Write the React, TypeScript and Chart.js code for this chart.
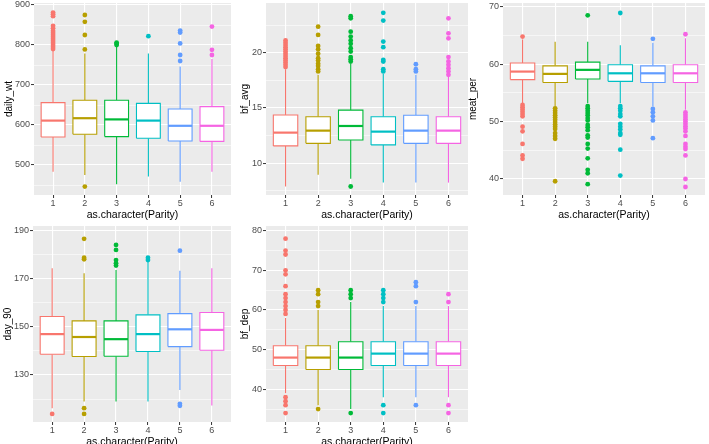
import React, { useEffect, useRef } from "react";
import { Chart, registerables } from "chart.js";

Chart.register(...registerables);

// ---------- shared categories ----------
const parity = [1, 2, 3, 4, 5, 6];
const parityColors = ["#F8766D", "#B79F00", "#00BA38", "#00BFC4", "#619CFF", "#F564E3"];
const xTitle = "as.character(Parity)";

// ---------- daily_wt ----------
const dailyWtLow = [483, 475, 452, 471, 458, 483];
const dailyWtQ1 = [570, 577, 571, 567, 560, 559];
const dailyWtMedian = [611, 617, 614, 611, 598, 598];
const dailyWtQ3 = [656, 662, 662, 654, 640, 646];
const dailyWtHigh = [786, 779, 796, 779, 746, 765];
const dailyWtOutliers = [
  [881, 877, 872, 848, 842, 835, 830, 825, 820, 815, 810, 805, 800, 795, 790],
  [875, 858, 825, 789, 446],
  [806, 803, 800],
  [822],
  [836, 831, 804, 775, 760],
  [846, 788, 775],
];
const dailyWtTicks = [500, 600, 700, 800, 900];
const dailyWtMinor = [450, 550, 650, 750, 850];

// ---------- bf_avg ----------
const bfAvgLow = [7.9, 8.95, 8.6, 8.25, 8.25, 8.25];
const bfAvgQ1 = [11.57, 11.8, 12.1, 11.66, 11.8, 11.8];
const bfAvgMedian = [12.77, 12.95, 13.37, 12.86, 12.95, 12.95];
const bfAvgQ3 = [14.37, 14.2, 14.8, 14.2, 14.34, 14.2];
const bfAvgHigh = [18.5, 18.0, 19.0, 18.1, 18.0, 17.8];
const bfAvgOutliers = [
  [21.1, 20.9, 20.7, 20.5, 20.3, 20.1, 19.9, 19.7, 19.5, 19.3, 19.1, 18.9, 18.7],
  [22.35, 21.6, 20.6, 20.3, 19.9, 19.5, 19.3, 19.0, 18.8, 18.5, 18.3],
  [23.3, 23.1, 21.9, 21.45, 21.1, 20.8, 20.4, 20.1, 19.6, 19.4, 19.2, 7.9],
  [23.6, 22.9, 21.0, 20.5, 19.35, 19.2, 18.5, 18.3],
  [18.95, 18.5, 18.3],
  [23.1, 21.75, 21.3, 19.6, 19.2, 18.9, 18.6, 18.3, 18.0],
];
const bfAvgTicks = [10, 15, 20];
const bfAvgMinor = [7.5, 12.5, 17.5, 22.5];

// ---------- meat_per ----------
const meatPerLow = [53.2, 52.6, 53.2, 53.2, 52.6, 52.05];
const meatPerQ1 = [57.3, 56.8, 57.4, 57.0, 56.8, 56.8];
const meatPerMedian = [58.7, 58.3, 59.0, 58.4, 58.4, 58.4];
const meatPerQ3 = [60.2, 59.7, 60.35, 59.9, 59.7, 59.9];
const meatPerHigh = [64.3, 63.9, 63.9, 63.3, 63.7, 64.5];
const meatPerOutliers = [
  [64.8, 52.9, 52.5, 52.1, 51.7, 51.3, 50.9, 49.1, 48.3, 46.1, 44.1, 43.5],
  [52.3, 51.9, 51.5, 51.1, 50.7, 50.3, 49.9, 49.5, 49.1, 48.7, 48.0, 47.5, 47.0, 39.6],
  [68.5, 52.7, 52.3, 51.9, 51.5, 51.1, 50.6, 50.2, 49.4, 49.0, 48.5, 47.6, 47.2, 46.1, 45.3, 43.6, 41.6, 41.0, 39.1],
  [68.9, 52.7, 52.3, 51.9, 51.3, 50.9, 49.6, 49.1, 48.6, 48.0, 47.7, 45.1, 40.6],
  [64.4, 52.2, 51.6, 50.9, 50.2, 47.1],
  [65.2, 51.6, 51.2, 50.8, 50.4, 50.0, 49.6, 49.2, 48.8, 48.3, 47.5, 46.1, 45.6, 45.2, 44.1, 40.0, 38.6],
];
const meatPerTicks = [40, 50, 60, 70];
const meatPerMinor = [45, 55, 65];

// ---------- day_90 ----------
const day90Low = [116.2, 119, 119, 119, 123.8, 117.3];
const day90Q1 = [138.6, 137.7, 137.8, 139.8, 141.8, 140.3];
const day90Median = [147, 145.8, 144.9, 147, 149, 148.75];
const day90Q3 = [154.3, 152.5, 152.5, 155, 155.5, 156];
const day90High = [174.4, 172.3, 173.7, 177, 173.3, 174.4];
const day90Outliers = [
  [113.8],
  [186.6, 178.8, 178.1, 116.2, 113.8],
  [184.1, 182, 177.8, 176.5, 175.5],
  [178.8, 177.8],
  [181.7, 118, 117.2],
  [],
];
const day90Ticks = [130, 150, 170, 190];
const day90Minor = [120, 140, 160, 180];

// ---------- bf_dep ----------
const bfDepLow = [39, 36, 35, 38, 38, 38];
const bfDepQ1 = [46, 45, 45, 46, 46, 46];
const bfDepMedian = [48, 48, 48, 49, 49, 49];
const bfDepQ3 = [51, 51, 52, 52, 52, 52];
const bfDepHigh = [58, 60, 62, 61, 61, 61];
const bfDepOutliers = [
  [59, 60, 61, 62, 63, 64, 66, 69, 70, 74, 75, 78, 38, 37, 36, 34],
  [61, 62, 64, 65, 35],
  [63, 64, 65, 34],
  [62, 63, 64, 65, 36, 34],
  [62, 66, 67, 36],
  [62, 64, 36, 34],
];
const bfDepTicks = [40, 50, 60, 70, 80];
const bfDepMinor = [35, 45, 55, 65, 75];

// ---------- panel table ----------
type Panel = {
  title: string;
  low: number[]; q1: number[]; median: number[]; q3: number[]; high: number[];
  outliers: number[][];
  ticks: number[]; minor: number[];
  min: number; max: number;
  L: number; T: number; R: number; B: number; titleCenter: number;
};

const panels: Panel[] = [
  { title: "daily_wt", low: dailyWtLow, q1: dailyWtQ1, median: dailyWtMedian, q3: dailyWtQ3, high: dailyWtHigh,
    outliers: dailyWtOutliers, ticks: dailyWtTicks, minor: dailyWtMinor, min: 425, max: 905,
    L: 34, T: 3, R: 231, B: 195, titleCenter: 9 },
  { title: "bf_avg", low: bfAvgLow, q1: bfAvgQ1, median: bfAvgMedian, q3: bfAvgQ3, high: bfAvgHigh,
    outliers: bfAvgOutliers, ticks: bfAvgTicks, minor: bfAvgMinor, min: 7.13, max: 24.49,
    L: 266, T: 3, R: 468, B: 195, titleCenter: 245 },
  { title: "meat_per", low: meatPerLow, q1: meatPerQ1, median: meatPerMedian, q3: meatPerQ3, high: meatPerHigh,
    outliers: meatPerOutliers, ticks: meatPerTicks, minor: meatPerMinor, min: 37.21, max: 70.64,
    L: 503, T: 3, R: 705, B: 195, titleCenter: 473 },
  { title: "day_90", low: day90Low, q1: day90Q1, median: day90Median, q3: day90Q3, high: day90High,
    outliers: day90Outliers, ticks: day90Ticks, minor: day90Minor, min: 110.46, max: 191.95,
    L: 33, T: 226, R: 231, B: 422, titleCenter: 8 },
  { title: "bf_dep", low: bfDepLow, q1: bfDepQ1, median: bfDepMedian, q3: bfDepQ3, high: bfDepHigh,
    outliers: bfDepOutliers, ticks: bfDepTicks, minor: bfDepMinor, min: 31.75, max: 81.19,
    L: 266, T: 226, R: 468, B: 422, titleCenter: 245 },
];

const FONT = "'Liberation Sans', Arial, sans-serif";
const HALF_BOX = 0.375;
const PAD_TOP = 10;
const PAD_RIGHT = 10;
const X_AXIS_H = 28;
const Y_TITLE_SIZE = 10;
const Y_TITLE_PAD = 1;

const panelBg = {
  id: "panelBg",
  beforeDraw(chart: any) {
    const { ctx, chartArea: a } = chart;
    ctx.save();
    ctx.fillStyle = "#EBEBEB";
    ctx.fillRect(a.left, a.top, a.right - a.left, a.bottom - a.top);
    ctx.restore();
  },
};

function geometry(p: Panel) {
  const canvasLeft = Math.round(p.titleCenter - (Y_TITLE_SIZE * 1.2) / 2 - Y_TITLE_PAD);
  const yW = p.L - canvasLeft;
  const top = p.T - PAD_TOP;
  const width = yW + (p.R - p.L) + PAD_RIGHT;
  const height = PAD_TOP + (p.B - p.T) + X_AXIS_H;
  return { canvasLeft, yW, top, width, height };
}

function buildDatasets(p: Panel) {
  const ds: any[] = [];
  parity.forEach((x, i) => {
    const color = parityColors[i];
    const base = {
      type: "line",
      borderColor: color,
      pointRadius: 0,
      pointHoverRadius: 0,
      fill: false,
      borderCapStyle: "butt",
      borderJoinStyle: "miter",
      tension: 0,
    };
    ds.push({
      type: "scatter",
      data: p.outliers[i].map((v) => ({ x, y: v })),
      pointRadius: 2.4,
      pointHoverRadius: 2.4,
      pointBackgroundColor: color,
      pointBorderWidth: 0,
      backgroundColor: color,
      borderColor: color,
      showLine: false,
      order: 0,
    });
    ds.push({
      ...base,
      data: [{ x: x - HALF_BOX, y: p.median[i] }, { x: x + HALF_BOX, y: p.median[i] }],
      borderWidth: 2.2,
      order: 1,
    });
    ds.push({
      ...base,
      data: [
        { x: x - HALF_BOX, y: p.q1[i] },
        { x: x + HALF_BOX, y: p.q1[i] },
        { x: x + HALF_BOX, y: p.q3[i] },
        { x: x - HALF_BOX, y: p.q3[i] },
        { x: x - HALF_BOX, y: p.q1[i] },
      ],
      borderWidth: 1.1,
      backgroundColor: "#FFFFFF",
      fill: "shape",
      order: 2,
    });
    ds.push({ ...base, data: [{ x, y: p.low[i] }, { x, y: p.q1[i] }], borderWidth: 1.1, order: 3 });
    ds.push({ ...base, data: [{ x, y: p.q3[i] }, { x, y: p.high[i] }], borderWidth: 1.1, order: 3 });
  });
  return ds;
}

function BoxPanel({ p }: { p: Panel }) {
  const ref = useRef<HTMLCanvasElement>(null);
  const g = geometry(p);
  useEffect(() => {
    if (!ref.current) return;
    const minorSet = new Set(p.minor);
    const allY = [...p.ticks, ...p.minor].sort((a, b) => a - b);
    const chart = new Chart(ref.current, {
      type: "line",
      data: { datasets: buildDatasets(p) as any },
      plugins: [panelBg],
      options: {
        animation: false,
        responsive: false,
        devicePixelRatio: 1,
        events: [],
        layout: { padding: { left: 0, top: PAD_TOP, right: PAD_RIGHT, bottom: 0 } },
        plugins: { legend: { display: false }, tooltip: { enabled: false } },
        scales: {
          x: {
            type: "linear",
            min: 0.4,
            max: 6.6,
            afterBuildTicks: (s: any) => {
              s.ticks = parity.map((v) => ({ value: v }));
            },
            afterFit: (s: any) => {
              s.height = X_AXIS_H;
            },
            border: { display: false },
            grid: { color: "#FFFFFF", lineWidth: 1.1, tickColor: "#333333", tickLength: 3, tickWidth: 1 },
            ticks: {
              autoSkip: false,
              maxRotation: 0,
              padding: 0,
              color: "#4D4D4D",
              font: { family: FONT, size: 9 },
              callback: (v: any) => String(v),
            },
            title: {
              display: true,
              text: xTitle,
              color: "#000000",
              font: { family: FONT, size: 10.5 },
              padding: { top: 0, bottom: 2 },
            },
          },
          y: {
            type: "linear",
            min: p.min,
            max: p.max,
            afterBuildTicks: (s: any) => {
              s.ticks = allY.map((v) => ({ value: v }));
            },
            afterFit: (s: any) => {
              s.width = g.yW;
            },
            border: { display: false },
            grid: {
              color: "#FFFFFF",
              lineWidth: (c: any) => (c.tick && minorSet.has(c.tick.value) ? 0.55 : 1.1),
              tickColor: (c: any) => (c.tick && minorSet.has(c.tick.value) ? "rgba(0,0,0,0)" : "#333333"),
              tickLength: 3,
              tickWidth: 1,
            },
            ticks: {
              autoSkip: false,
              padding: 1,
              color: "#4D4D4D",
              font: { family: FONT, size: 9 },
              callback: (v: any) => (minorSet.has(v) ? "" : String(v)),
            },
            title: {
              display: true,
              text: p.title,
              color: "#000000",
              font: { family: FONT, size: Y_TITLE_SIZE },
              padding: { top: Y_TITLE_PAD, bottom: 0 },
            },
          },
        },
      } as any,
    });
    return () => chart.destroy();
  }, []);
  return (
    <canvas
      ref={ref}
      width={g.width}
      height={g.height}
      style={{ position: "absolute", left: g.canvasLeft, top: g.top, width: g.width, height: g.height }}
    />
  );
}

export default function App() {
  return (
    <div
      style={{
        position: "fixed",
        left: 0,
        top: 0,
        width: 709,
        height: 444,
        overflow: "hidden",
        background: "#FFFFFF",
      }}
    >
      {panels.map((p) => (
        <BoxPanel key={p.title} p={p} />
      ))}
    </div>
  );
}
